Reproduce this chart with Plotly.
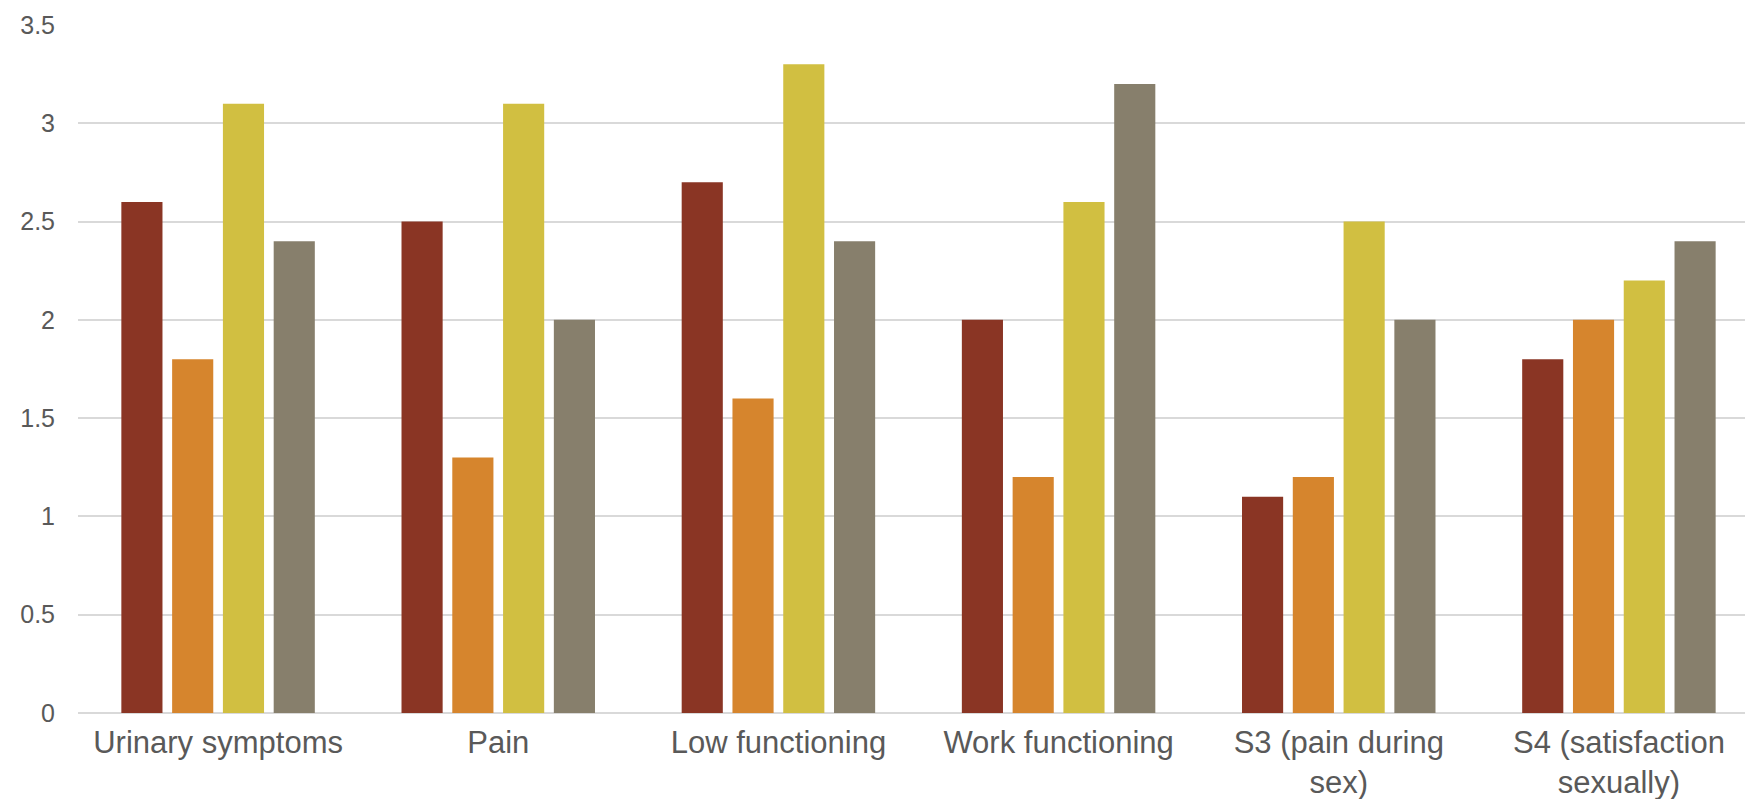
import plotly.graph_objects as go

categories = ["Urinary symptoms", "Pain", "Low functioning", "Work functioning",
              "S3 (pain during<br>sex)", "S4 (satisfaction<br>sexually)"]
series_names = ["Series 1", "Series 2", "Series 3", "Series 4"]
series1 = [2.6, 2.5, 2.7, 2.0, 1.1, 1.8]
series2 = [1.8, 1.3, 1.6, 1.2, 1.2, 2.0]
series3 = [3.1, 3.1, 3.3, 2.6, 2.5, 2.2]
series4 = [2.4, 2.0, 2.4, 3.2, 2.0, 2.4]
colors = ["#8A3524", "#D6852D", "#D1BF41", "#877F6C"]
y_ticks = [0, 0.5, 1, 1.5, 2, 2.5, 3, 3.5]
y_tick_labels = ["0", "0.5", "1", "1.5", "2", "2.5", "3", "3.5"]

fig = go.Figure()
for name, vals, c in zip(series_names, [series1, series2, series3, series4], colors):
    fig.add_trace(go.Bar(name=name, x=categories, y=vals, marker_color=c,
                         marker_line_width=0))

fig.update_layout(
    width=1753, height=799,
    margin=dict(l=70, r=2, t=17, b=94),
    paper_bgcolor="white", plot_bgcolor="white",
    barmode="group", bargap=0.275, bargroupgap=0.19,
    showlegend=False,
    font=dict(family="Liberation Sans, Arial, sans-serif", color="#595959"),
)
fig.update_yaxes(range=[0, 3.5], tickvals=y_ticks, ticktext=y_tick_labels,
                 showgrid=True, gridcolor="#D9D9D9", gridwidth=2,
                 zeroline=True, zerolinecolor="#D9D9D9", zerolinewidth=2,
                 showline=False, tickfont=dict(size=25, color="#595959"),
                 ticklabelstandoff=22, automargin=False)
fig.update_xaxes(showline=False, showgrid=False, automargin=False,
                 tickfont=dict(size=31, color="#595959"), ticklabelstandoff=8)

fig.write_html("out.html")
